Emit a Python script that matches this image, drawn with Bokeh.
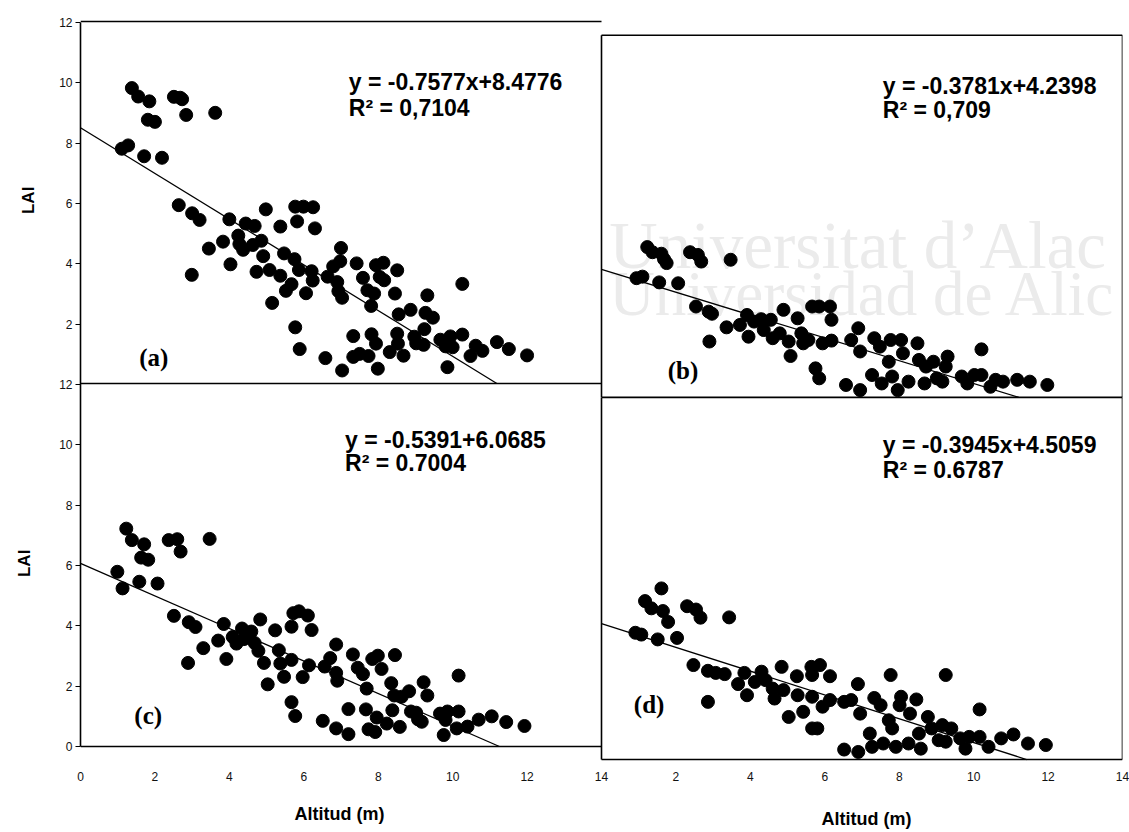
import math
from bokeh.plotting import figure
from bokeh.models import Range1d, FixedTicker, Label
from bokeh.layouts import row, column
from bokeh.core.properties import value
from bokeh.embed import file_html
from bokeh.resources import INLINE

# ---------------- data ----------------
# panel (a)
a_x = [1.38, 1.55, 1.85, 1.81, 2.00, 2.51, 2.68, 2.73, 2.84, 3.62,
       1.11, 1.28, 1.71, 2.19, 2.64, 3.00, 3.20, 2.99, 3.45, 3.83,
       4.00, 4.03, 4.24, 4.27, 4.37, 4.44, 4.68, 4.63, 4.86, 4.98,
       4.91, 4.73, 5.08, 5.15, 5.37, 5.47, 5.37, 5.52, 5.67, 5.75,
       5.82, 5.77, 5.99, 6.25, 6.30, 5.87, 6.06, 6.21, 6.24, 5.77,
       5.89, 6.58, 6.64, 6.79, 6.98, 7.00, 6.90, 6.93, 7.03, 7.03,
       7.33, 7.33, 7.42, 7.59, 7.71, 7.50, 7.74, 7.81, 7.82, 7.94,
       8.04, 8.14, 8.16, 7.89, 7.94, 7.99, 8.31, 8.45, 8.51, 8.51,
       8.53, 8.55, 8.68, 8.87, 8.97, 9.02, 9.22, 9.32, 9.27, 9.47,
       9.24, 9.67, 9.81, 9.86, 9.94, 10.00, 10.26, 10.26, 10.48, 10.62,
       10.80, 11.19, 11.51, 12.00]
a_y = [9.79, 9.51, 9.35, 8.74, 8.67, 9.50, 9.47, 9.42, 8.90, 8.97,
       7.78, 7.89, 7.53, 7.48, 5.91, 5.64, 5.42, 3.60, 4.47, 4.70,
       5.44, 3.95, 4.90, 4.62, 4.43, 5.30, 5.22, 4.59, 4.73, 5.77,
       4.22, 3.70, 3.76, 2.67, 5.20, 4.31, 3.57, 3.07, 3.29, 4.12,
       5.37, 5.86, 5.86, 5.84, 5.14, 3.76, 2.99, 3.72, 3.41, 1.86,
       1.14, 0.84, 3.54, 3.88, 4.05, 4.49, 3.36, 3.06, 2.84, 0.43,
       1.57, 0.88, 3.98, 3.50, 3.09, 0.98, 0.91, 2.57, 1.63, 3.92,
       3.53, 4.00, 3.42, 2.98, 1.32, 0.49, 1.04, 2.98, 3.75, 1.65,
       1.32, 2.29, 0.92, 2.44, 1.55, 1.33, 1.28, 2.92, 2.34, 2.18,
       1.80, 1.45, 1.23, 0.54, 1.56, 1.20, 3.30, 1.62, 0.91, 1.25,
       1.08, 1.37, 1.14, 0.93]

# panel (b)
b_x = [1.23, 1.37, 1.61, 1.75, 1.68, 2.38, 2.59, 2.68, 3.47, 0.94,
       1.10, 1.55, 2.06, 2.54, 2.88, 2.97, 2.90, 3.36, 3.72, 3.91,
       3.95, 4.10, 4.29, 4.36, 4.55, 4.60, 4.89, 4.79, 5.03, 5.08,
       5.27, 5.37, 5.42, 5.66, 5.85, 6.14, 6.18, 5.56, 5.75, 5.85,
       5.94, 6.18, 6.57, 6.71, 6.90, 6.95, 6.95, 7.27, 7.33, 7.48,
       7.53, 7.72, 7.77, 7.81, 7.96, 8.05, 8.10, 8.25, 8.49, 8.53,
       8.68, 8.72, 8.92, 9.01, 9.16, 9.30, 9.25, 9.68, 9.83, 10.02,
       10.21, 10.21, 10.45, 10.59, 10.79, 11.17, 11.51, 11.98]
b_y = [4.98, 4.81, 4.76, 4.45, 4.58, 4.81, 4.72, 4.50, 4.56, 3.95,
       4.00, 3.81, 3.78, 3.01, 2.84, 2.77, 1.85, 2.32, 2.40, 2.73,
       2.01, 2.51, 2.59, 2.23, 2.57, 1.96, 2.90, 2.12, 1.85, 1.37,
       2.62, 2.12, 1.79, 3.01, 3.01, 3.01, 2.57, 1.90, 0.96, 0.63,
       1.79, 1.88, 0.41, 1.90, 2.29, 1.52, 0.24, 0.74, 1.96, 1.68,
       0.46, 1.18, 1.90, 0.69, 0.24, 1.90, 1.46, 0.52, 1.79, 1.24,
       0.46, 1.02, 1.18, 0.63, 0.52, 1.35, 1.02, 0.69, 0.46, 0.74,
       1.59, 0.74, 0.35, 0.58, 0.52, 0.58, 0.52, 0.41]

# panel (c)
c_x = [1.23, 1.38, 1.71, 1.63, 1.82, 0.99, 1.13, 1.58, 2.07, 2.37,
       2.60, 2.69, 3.47, 2.51, 2.91, 3.09, 2.89, 3.30, 3.70, 3.85,
       3.92, 4.09, 4.19, 4.34, 4.39, 4.59, 4.68, 4.83, 4.78, 4.93,
       5.03, 5.23, 5.33, 5.37, 5.47, 5.67, 5.72, 5.87, 6.11, 5.67,
       6.21, 5.67, 5.77, 5.97, 6.14, 6.51, 6.56, 6.71, 6.87, 6.87,
       6.90, 6.87, 7.20, 7.20, 7.32, 7.45, 7.59, 7.69, 7.67, 7.74,
       7.84, 7.99, 8.09, 7.96, 7.92, 8.23, 8.35, 8.45, 8.43, 8.38,
       8.58, 8.63, 8.83, 8.88, 9.07, 9.17, 9.22, 9.32, 9.02, 9.66,
       9.76, 9.81, 9.86, 10.16, 10.16, 10.11, 10.40, 10.70, 11.05, 11.44,
       11.93]
c_y = [7.22, 6.84, 6.70, 6.26, 6.19, 5.79, 5.24, 5.46, 5.40, 6.84,
       6.87, 6.46, 6.88, 4.33, 4.12, 3.96, 2.77, 3.26, 3.51, 4.06,
       2.90, 3.63, 3.41, 3.91, 3.56, 3.81, 3.43, 4.21, 3.17, 2.77,
       2.06, 3.85, 3.19, 2.75, 2.31, 2.87, 4.42, 4.48, 4.34, 3.97,
       3.86, 1.47, 1.01, 2.30, 2.69, 0.85, 2.65, 2.93, 3.38, 2.44,
       2.18, 0.60, 1.24, 0.41, 3.05, 2.61, 2.40, 1.92, 1.23, 0.57,
       2.90, 3.01, 2.57, 0.96, 0.48, 0.76, 2.10, 3.03, 1.69, 1.20,
       0.65, 1.65, 1.83, 1.16, 0.90, 0.82, 2.13, 1.69, 1.12, 1.09,
       0.38, 0.88, 1.16, 2.35, 1.16, 0.60, 0.66, 0.89, 1.00, 0.81,
       0.68]

# panel (d)
d_x = [1.61, 1.17, 1.34, 1.65, 1.79, 2.30, 2.54, 2.66, 3.43, 0.91,
       1.07, 1.51, 2.03, 2.47, 2.86, 3.07, 3.31, 2.86, 3.67, 3.84,
       3.91, 4.12, 4.30, 4.41, 4.60, 4.65, 4.84, 4.89, 5.03, 5.25,
       5.27, 5.42, 5.64, 5.87, 6.14, 5.66, 5.66, 5.80, 5.66, 5.94,
       6.14, 6.52, 6.52, 6.71, 6.89, 6.95, 6.90, 7.21, 7.27, 7.33,
       7.50, 7.57, 7.77, 7.72, 7.81, 7.91, 8.05, 8.01, 8.29, 8.25,
       8.46, 8.53, 8.58, 8.77, 8.87, 9.06, 9.16, 9.25, 9.40, 9.25,
       9.64, 9.78, 9.88, 10.16, 10.16, 10.40, 10.74, 11.07, 11.46, 11.94]
d_y = [5.67, 5.25, 5.01, 4.92, 4.56, 5.08, 4.97, 4.70, 4.71, 4.20,
       4.14, 3.98, 4.03, 3.13, 2.94, 2.87, 2.83, 1.91, 2.50, 2.87,
       2.13, 2.57, 2.91, 2.63, 2.35, 2.02, 3.07, 2.30, 1.41, 2.76,
       2.13, 1.58, 3.07, 3.13, 2.76, 2.80, 1.03, 1.03, 2.08, 1.75,
       1.97, 1.91, 0.33, 1.97, 2.50, 1.52, 0.25, 0.86, 0.42, 2.04,
       1.80, 0.53, 2.80, 1.30, 1.03, 0.42, 2.08, 1.80, 1.52, 0.53,
       1.99, 0.86, 0.36, 1.41, 1.03, 0.64, 1.14, 2.80, 1.03, 0.59,
       0.70, 0.36, 0.75, 1.66, 0.75, 0.42, 0.70, 0.83, 0.53, 0.48]

# regression fits printed on the chart
fit_slope = {"a": -0.7577, "b": -0.3781, "c": -0.5391, "d": -0.3945}
fit_icpt = {"a": 8.4776, "b": 4.2398, "c": 6.0685, "d": 4.5059}
eq_text = {"a": "y = -0.7577x+8.4776", "b": "y = -0.3781x+4.2398",
           "c": "y = -0.5391+6.0685", "d": "y = -0.3945x+4.5059"}
r2_text = {"a": "R\u00b2 = 0,7104", "b": "R\u00b2 = 0,709",
           "c": "R\u00b2 = 0.7004", "d": "R\u00b2 = 0.6787"}
panel_tag = {"a": "(a)", "b": "(b)", "c": "(c)", "d": "(d)"}

tick_vals = [0, 2, 4, 6, 8, 10, 12]
tick_x_vals = [0, 2, 4, 6, 8, 10, 12, 14]
tick_labels = ["0", "2", "4", "6", "8", "10", "12"]
tick_x_labels = ["0", "2", "4", "6", "8", "10", "12", "14"]
y_title = "LAI"
x_title = "Altitud (m)"
watermark = ["Universitat d\u2019Alac", "Universidad de Alic"]

XMAX = 14
YMAX = 12

# ---------------- layout constants ----------------
SANS = "Liberation Sans"
SERIF = "Liberation Serif"
LEFT_W = 40          # strip holding the LAI titles
MAIN_W = 1089
TOP_B, FRAME_H, BOT_B = 20, 741, 30
MAIN_H = TOP_B + FRAME_H + BOT_B
BOT_H = 38
X_RANGE = (0, 2 * XMAX)
Y_RANGES = {"default": (-0.497, 24.06), "a": (-12.53, 12.03),
            "b": (-12.07, 12.49), "d": (-0.066, 24.49)}

p = figure(width=MAIN_W, height=MAIN_H, output_backend="svg", toolbar_location=None,
           x_range=Range1d(*X_RANGE), y_range=Range1d(*Y_RANGES["default"]),
           min_border_left=LEFT_W, min_border_right=7, min_border_top=TOP_B,
           min_border_bottom=BOT_B, background_fill_color="white",
           border_fill_color="white")
p.extra_x_ranges = {"right": Range1d(-XMAX, XMAX)}
p.extra_y_ranges = {k: Range1d(*v) for k, v in Y_RANGES.items() if k != "default"}
p.outline_line_color = None
p.grid.visible = False

# left axis: (c) 0..12 below, (a) 0..12 above (same scale)
yt = tick_vals + [YMAX + v for v in tick_vals[1:]]
p.yaxis.ticker = FixedTicker(ticks=yt)
p.yaxis.major_label_overrides = {YMAX + v: lab for v, lab in zip(tick_vals[1:], tick_labels[1:])}
p.yaxis.bounds = (0, 2 * YMAX)
p.yaxis.axis_line_color = "black"
p.yaxis.axis_line_width = 1.6
p.yaxis.major_tick_out = 5
p.yaxis.major_tick_in = 0
p.yaxis.minor_tick_line_color = None
p.yaxis.major_label_standoff = 3
p.yaxis.major_label_text_font = SANS
p.yaxis.major_label_text_font_size = "12px"
p.yaxis.major_label_text_color = "#111111"

# bottom axis: (c) 0..14 and (d) 0..14 side by side
xt = tick_x_vals + [XMAX + v for v in tick_x_vals[1:]]
p.xaxis.ticker = FixedTicker(ticks=xt)
p.xaxis.major_label_overrides = {XMAX + v: lab for v, lab in zip(tick_x_vals[1:], tick_x_labels[1:])}
p.xaxis.axis_line_color = None
p.xaxis.major_tick_line_color = None
p.xaxis.minor_tick_line_color = None
p.xaxis.major_label_standoff = 4
p.xaxis.major_label_text_font = SANS
p.xaxis.major_label_text_font_size = "12px"
p.xaxis.major_label_text_color = "#111111"

# watermark (very light, behind everything)
for txt, yy, fs in zip(watermark, [5.04, 3.41], ["67px", "63px"]):
    p.add_layout(Label(x=0.21, y=yy, x_range_name="right", y_range_name="b",
                       text=txt, text_font=SERIF, text_font_size=fs,
                       text_color="#ebebeb", text_baseline="middle",
                       level="underlay"))

panels = {
    "a": dict(x=a_x, y=a_y, xr="default", yr="a"),
    "b": dict(x=b_x, y=b_y, xr="right", yr="b"),
    "c": dict(x=c_x, y=c_y, xr="default", yr="default"),
    "d": dict(x=d_x, y=d_y, xr="right", yr="d"),
}
frame_sides = {"a": ["top", "bottom"], "b": ["top", "bottom", "left", "right"],
               "c": ["bottom"], "d": ["bottom", "left", "right"]}
side_xy = {"top": ([0, XMAX], [YMAX, YMAX]), "bottom": ([0, XMAX], [0, 0]),
           "left": ([0, 0], [0, YMAX]), "right": ([XMAX, XMAX], [0, YMAX])}

eq_pos = {"a": (7.21, 9.99, 9.14), "b": (7.56, 10.31, 9.51),
          "c": (7.11, 10.17, 9.40), "d": (7.56, 10.41, 9.60)}
tag_pos = {"a": (1.97, 0.87), "b": (2.19, 0.90), "c": (1.82, 1.03), "d": (1.28, 1.82)}

for key, pn in panels.items():
    xr, yr = pn["xr"], pn["yr"]
    for side in frame_sides[key]:
        sx, sy = side_xy[side]
        p.line(sx, sy, x_range_name=xr, y_range_name=yr, line_color="black", line_width=1.6)
    m, b0 = fit_slope[key], fit_icpt[key]
    x_end = -b0 / m
    p.line([0, x_end], [b0, m * x_end + b0], x_range_name=xr, y_range_name=yr,
           line_color="black", line_width=1.3)
    p.scatter(pn["x"], pn["y"], x_range_name=xr, y_range_name=yr, size=13,
              marker="circle", fill_color="black", line_color="black")
    ex, ey1, ey2 = eq_pos[key]
    for txt, yy in ((eq_text[key], ey1), (r2_text[key], ey2)):
        p.add_layout(Label(x=ex, y=yy, x_range_name=xr, y_range_name=yr, text=txt,
                           text_font=SANS, text_font_size="23px", text_font_style="bold",
                           text_color="black", text_baseline="middle"))
    tx, ty = tag_pos[key]
    p.add_layout(Label(x=tx, y=ty, x_range_name=xr, y_range_name=yr, text=panel_tag[key],
                       text_font=SERIF, text_font_size="25px", text_font_style="bold",
                       text_color="black", text_align="center", text_baseline="middle"))

# ---------------- strip with the two "LAI" titles ----------------
pl = figure(width=LEFT_W, height=MAIN_H, output_backend="svg", toolbar_location=None,
            x_range=Range1d(0, LEFT_W), y_range=Range1d(*Y_RANGES["default"]),
            min_border_left=0, min_border_right=0, min_border_top=TOP_B,
            min_border_bottom=BOT_B, x_axis_location=None, y_axis_location=None,
            background_fill_color="white", border_fill_color="white")
pl.extra_y_ranges = {"a": Range1d(*Y_RANGES["a"])}
pl.outline_line_color = None
pl.grid.visible = False
for xx, yr in ((28, "a"), (24, "default")):
    pl.text(x=[xx], y=[6.07], text=[y_title], y_range_name=yr, angle=math.pi / 2,
            text_font=value(SANS), text_font_size="17px", text_font_style="bold",
            text_color="black", text_align="center", text_baseline="middle")

# ---------------- strip with the two "Altitud (m)" titles ----------------
pb = figure(width=LEFT_W + MAIN_W, height=BOT_H, output_backend="svg", toolbar_location=None,
            x_range=Range1d(*X_RANGE), y_range=Range1d(0, BOT_H),
            min_border_left=2 * LEFT_W, min_border_right=7, min_border_top=0,
            min_border_bottom=0, x_axis_location=None, y_axis_location=None,
            background_fill_color="white", border_fill_color="white")
pb.extra_x_ranges = {"right": Range1d(-XMAX, XMAX)}
pb.outline_line_color = None
pb.grid.visible = False
for xx, yy, xr in ((6.96, 16, "default"), (7.12, 11, "right")):
    pb.text(x=[xx], y=[yy], text=[x_title], x_range_name=xr,
            text_font=value(SANS), text_font_size="18px", text_font_style="bold",
            text_color="black", text_align="center", text_baseline="middle")

layout = column(row(pl, p, spacing=0), pb, spacing=0)
open("out.html", "w").write(file_html(layout, INLINE))
